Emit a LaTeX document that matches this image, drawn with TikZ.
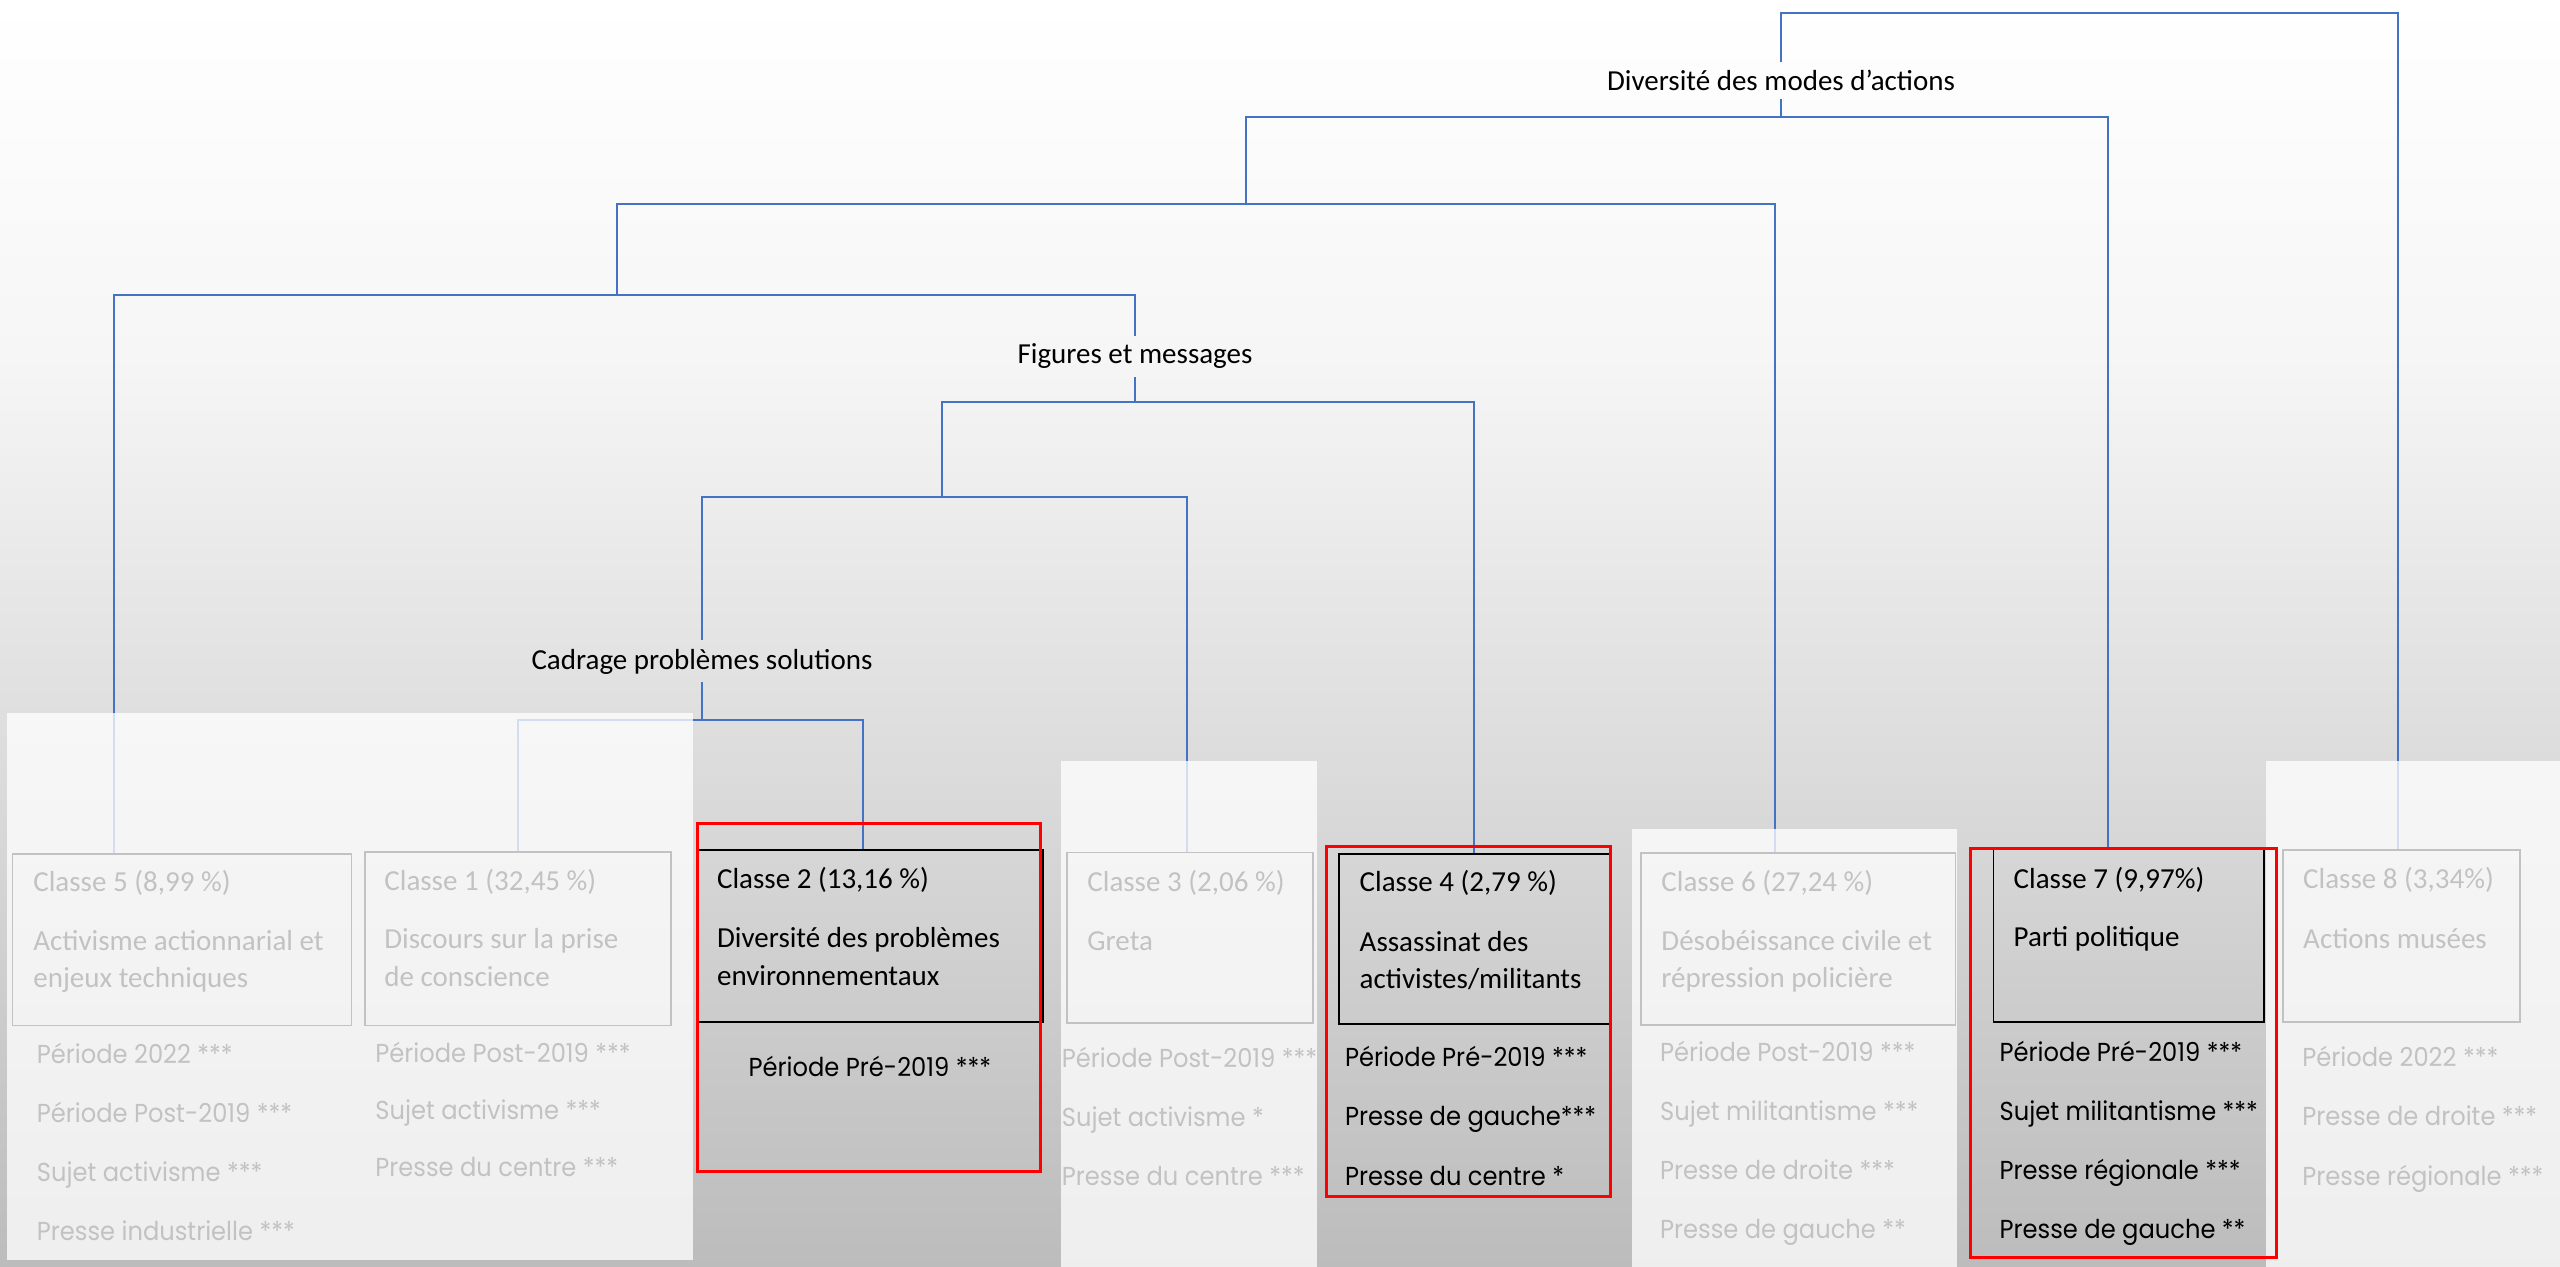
\documentclass[tikz,border=0pt]{standalone}
\usepackage{fontspec}
\setmainfont{Carlito}
\newfontfamily\gothic[FakeStretch=0.93]{Poppins}
\usepackage{tikz}
\usetikzlibrary{fit,positioning}
\definecolor{ink}{HTML}{000000}
\definecolor{linkc}{HTML}{4472C4}
\definecolor{frame}{HTML}{FF0000}
\definecolor{bgmid}{HTML}{DCDCDC}
\definecolor{bgbot}{HTML}{BCBCBC}
\definecolor{bglight}{HTML}{F6F6F6}
\pgfdeclareverticalshading{slidebg}{100bp}{color(0bp)=(bgbot); color(25bp)=(bgbot); color(45bp)=(bgmid); color(61bp)=(bglight); color(75bp)=(white); color(100bp)=(white)}
\tikzset{
  link/.style={linkc,line width=1pt},
  cut/.style={font=\fontsize{14.5}{17}\selectfont,text=ink,inner sep=4pt,anchor=base},
  classbox/.style={draw=ink,line width=0.8pt,inner sep=0pt},
  ttl/.style={font=\fontsize{14.5}{17}\selectfont,text=ink,inner sep=0pt,anchor=base west},
  itm/.style={font=\gothic\fontsize{13}{16}\selectfont,text=ink,inner sep=0pt,anchor=base west},
  veil/.style={fill=white,opacity=0.76},
  redframe/.style={draw=frame,line width=1.5pt,inner sep=0pt},
}

\begin{document}
\begin{tikzpicture}[x=0.5pt,y=-0.5pt]
  \useasboundingbox (0,0) rectangle (2560,1267);
  % ---------- background ----------
  \shade[shading=slidebg] (0,0) rectangle (2560,1267);
  % ---------- class boxes ----------
  \node[classbox,fit={(12.6,853.7) (351.5,1025.5)}] (c5) {};
  \node[classbox,fit={(365,852) (671,1025.5)}] (c1) {};
  \node[classbox,fit={(696.6,850) (1043,1022)}] (c2) {};
  \node[classbox,fit={(1067,852.6) (1313,1023)}] (c3) {};
  \node[classbox,fit={(1339,854) (1610,1024)}] (c4) {};
  \node[classbox,fit={(1641,853) (1955.6,1025)}] (c6) {};
  \node[classbox,fit={(1993.6,849) (2264,1021.7)}] (c7) {};
  \node[classbox,fit={(2283,850) (2520,1022)}] (c8) {};
  % ---------- tree ----------
  \coordinate (m7) at (702,720);
  \coordinate (m6) at (942,497);
  \coordinate (m5) at (1135,402);
  \coordinate (m4) at (617,295.5);
  \coordinate (m3) at (1246,204.5);
  \coordinate (m2) at (1781,117);
  \coordinate (root) at (2398,13.4);
  \node[cut] (lab3) at (702,669) {Cadrage problèmes solutions};
  \node[cut] (lab2) at (1135,364) {Figures et messages};
  \node[cut] (lab1) at (1781,90.7) {Diversité des modes d’actions};
  \draw[link] (c1.north -| 517.7,0) |- (m7) -| (c2.north -| 863,0);
  \draw[link] (m7) -- (lab3.south);
  \draw[link] (lab3.north) |- (m6) -| (c3.north -| 1187,0);
  \draw[link] (m6) |- (m5) -| (c4.north -| 1474,0);
  \draw[link] (m5) -- (lab2.south);
  \draw[link] (lab2.north) |- (m4) -| (c5.north -| 114,0);
  \draw[link] (m4) |- (m3) -| (c6.north -| 1775,0);
  \draw[link] (m3) |- (m2) -| (c7.north -| 2108,0);
  \draw[link] (m2) -- (lab1.south);
  \draw[link] (lab1.north) |- (root) -- (c8.north -| root);
  % ---------- classe 5 ----------
  \node[ttl] (t5) at (33,891.7) {Classe 5 (8,99 \%)};
  \node[ttl] (d5a) at (33,950.6) {Activisme actionnarial et};
  \node[ttl] (d5b) at (33,987.5) {enjeux techniques};
  \foreach \t [count=\k from 0] in {Période 2022 ***,Période Post-2019 ***,Sujet activisme ***,Presse industrielle ***}
    \node[itm] (i5-\k) at (36.5,1063.5+59*\k) {\t};
  % ---------- classe 1 ----------
  \node[ttl] (t1) at (384,890) {Classe 1 (32,45 \%)};
  \node[ttl] (d1a) at (384,948.8) {Discours sur la prise};
  \node[ttl] (d1b) at (384,986.8) {de conscience};
  \foreach \t [count=\k from 0] in {Période Post-2019 ***,Sujet activisme ***,Presse du centre ***}
    \node[itm] (i1-\k) at (375,1062.7+57*\k) {\t};
  % ---------- classe 2 ----------
  \node[ttl] (t2) at (716.7,888.3) {Classe 2 (13,16 \%)};
  \node[ttl] (d2a) at (716.7,947.7) {Diversité des problèmes};
  \node[ttl] (d2b) at (716.7,985) {environnementaux};
  \node[itm] (i2-0) at (748.3,1076.7) {Période Pré-2019 ***};
  % ---------- classe 3 ----------
  \node[ttl] (t3) at (1087,891.3) {Classe 3 (2,06 \%)};
  \node[ttl] (d3a) at (1087,950) {Greta};
  \foreach \t [count=\k from 0] in {Période Post-2019 ***,Sujet activisme *,Presse du centre ***}
    \node[itm] (i3-\k) at (1061.5,1067.7+59*\k) {\t};
  % ---------- classe 4 ----------
  \node[ttl] (t4) at (1359.3,891) {Classe 4 (2,79 \%)};
  \node[ttl] (d4a) at (1359.3,951.8) {Assassinat des};
  \node[ttl] (d4b) at (1359.3,988.7) {activistes/militants};
  \foreach \t [count=\k from 0] in {Période Pré-2019 ***,Presse de gauche***,Presse du centre *}
    \node[itm] (i4-\k) at (1344.6,1066+59.7*\k) {\t};
  % ---------- classe 6 ----------
  \node[ttl] (t6) at (1661,891) {Classe 6 (27,24 \%)};
  \node[ttl] (d6a) at (1661,950) {Désobéissance civile et};
  \node[ttl] (d6b) at (1661,987) {répression policière};
  \foreach \t [count=\k from 0] in {Période Post-2019 ***,Sujet militantisme ***,Presse de droite ***,Presse de gauche **}
    \node[itm] (i6-\k) at (1659.7,1061+59.3*\k) {\t};
  % ---------- classe 7 ----------
  \node[ttl] (t7) at (2013.3,888) {Classe 7 (9,97\%)};
  \node[ttl] (d7a) at (2013.3,946.7) {Parti politique};
  \foreach \t [count=\k from 0] in {Période Pré-2019 ***,Sujet militantisme ***,Presse régionale ***,Presse de gauche **}
    \node[itm] (i7-\k) at (1999.3,1061.7+59*\k) {\t};
  % ---------- classe 8 ----------
  \node[ttl] (t8) at (2302.8,888) {Classe 8 (3,34\%)};
  \node[ttl] (d8a) at (2302.8,948.4) {Actions musées};
  \foreach \t [count=\k from 0] in {Période 2022 ***,Presse de droite ***,Presse régionale ***}
    \node[itm] (i8-\k) at (2302,1066+59.7*\k) {\t};
  % ---------- veils over the other classes ----------
  \fill[veil] (7,713) rectangle (693,1260);
  \fill[veil] (1061,761) rectangle (1317,1267);
  \fill[veil] (1632,829) rectangle (1957,1267);
  \fill[veil] (2266,761) rectangle (2560,1267);
  % ---------- red frames ----------
  \node[redframe,fit={(697,823.5) (1040.5,1171.5)}] (r2) {};
  \node[redframe,fit={(1326,846) (1610,1196)}] (r4) {};
  \node[redframe,fit={(1970,848) (2276,1257)}] (r7) {};
\end{tikzpicture}
\end{document}
